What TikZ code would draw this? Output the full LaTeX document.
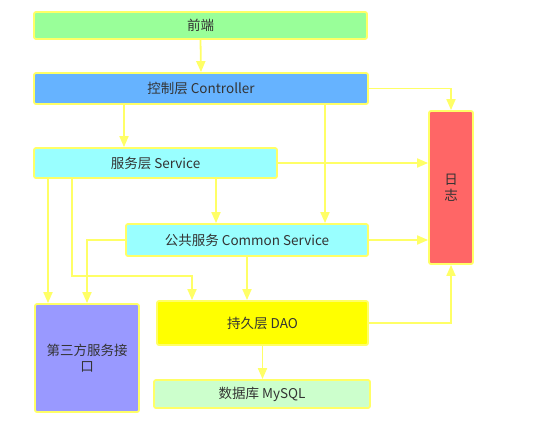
\documentclass[tikz,border=0pt]{standalone}
\usepackage{fontspec}
\setmainfont{Noto Sans CJK SC}
\usetikzlibrary{arrows.meta}
\definecolor{edge}{HTML}{FFFF66}
\definecolor{txt}{HTML}{333333}
\definecolor{cqd}{HTML}{99FF99}
\definecolor{cctrl}{HTML}{66B3FF}
\definecolor{csvc}{HTML}{99FFFF}
\definecolor{clog}{HTML}{FF6666}
\definecolor{ctp}{HTML}{9999FF}
\definecolor{cdao}{HTML}{FFFF00}
\definecolor{cdb}{HTML}{CCFFCC}
\tikzset{
  box/.style={draw=edge, line width=1.8pt, rounded corners=2pt, text=txt,
    font=\fontsize{13.5pt}{16pt}\selectfont, inner sep=0pt, align=center},
  arr/.style={draw=edge, line width=1.8pt, -{Triangle[length=11pt,width=9pt]}},
}
\begin{document}
\begin{tikzpicture}[x=1pt,y=-1pt]
\useasboundingbox (0,0) rectangle (540,447);
\node[box, fill=cqd, minimum width=333pt, minimum height=27pt] (qd) at (200.5,25.5) {前端};
\node[box, fill=cctrl, minimum width=334pt, minimum height=31pt] (ctrl) at (201,88.5) {控制层 Controller};
\node[box, fill=csvc, minimum width=243pt, minimum height=30pt] (svc) at (155.5,163) {服务层 Service};
\node[box, fill=csvc, minimum width=242pt, minimum height=32pt] (com) at (247,240) {公共服务 Common Service};
\node[box, fill=clog, minimum width=44pt, minimum height=153pt] (log) at (451,187.5) {日\\志};
\node[box, fill=ctp, minimum width=104pt, minimum height=108pt] (tp) at (87,358) {第三方服务接\\口};
\node[box, fill=cdao, minimum width=211pt, minimum height=44pt] (dao) at (262.5,323) {持久层 DAO};
\node[box, fill=cdb, minimum width=216pt, minimum height=28pt] (db) at (262,394) {数据库 MySQL};

\coordinate (x48) at (48,0);
\coordinate (x72) at (72,0);
\coordinate (x87) at (87,0);
\coordinate (x124) at (124,0);
\coordinate (x192) at (192,0);
\coordinate (x216) at (216,0);
\coordinate (x247) at (247,0);
\coordinate (x325) at (325,0);
\coordinate (y276) at (0,276);

\draw[arr] (qd.south) -- (ctrl.north);
\draw[arr] (ctrl.east) -| (log.north);
\draw[arr] (ctrl.south -| x124) -- (svc.north -| x124);
\draw[arr] (ctrl.south -| x325) -- (com.north -| x325);
\draw[arr] (svc.east) -- (svc.east -| log.west);
\draw[arr] (svc.south -| x216) -- (com.north -| x216);
\draw[arr] (com.east) -- (com.east -| log.west);
\draw[arr] (svc.south -| x48) -- (tp.north -| x48);
\draw[arr] (svc.south -| x72) -- (x72 |- y276) -- (x192 |- y276) -- (dao.north -| x192);
\draw[arr] (com.west) -| (tp.north -| x87);
\draw[arr] (com.south -| x247) -- (dao.north -| x247);
\draw[arr] (dao.east) -| (log.south);
\draw[arr] (dao.south) -- (dao.south |- db.north);
\end{tikzpicture}
\end{document}
